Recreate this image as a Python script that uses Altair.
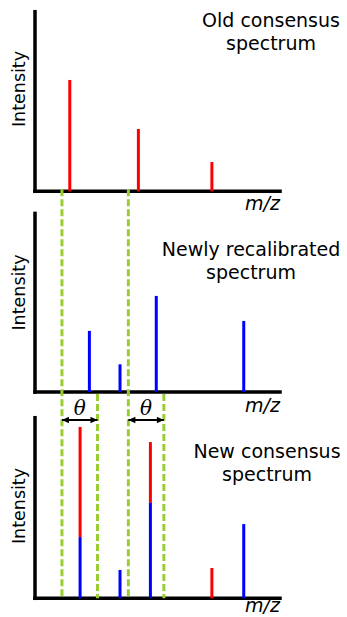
import altair as alt
import pandas as pd

# Peak lists: m/z in axis units (0-100 along each m/z axis), intensity 0-100 up each axis
old_mz = [14.2, 42.2, 72.2]
old_int = [62.0, 34.7, 16.3]

new_mz = [22.2, 34.7, 49.5, 85.2]
new_int = [34.2, 15.5, 53.8, 39.8]

# merged spectrum: blue part = recalibrated contribution, red part stacked on top = old contribution
cons_mz = [18.4, 34.7, 47.1, 72.2, 85.2]
cons_new = [33.9, 15.7, 52.8, 0.0, 41.1]
cons_old = [61.0, 0.0, 33.7, 16.8, 0.0]

# matching windows of width theta
window_start = [11.0, 38.1]
theta = 14.5

panel_titles = ["Old consensus\nspectrum", "Newly recalibrated\nspectrum", "New consensus\nspectrum"]

# ---- layout ----
W, H = 347, 617
X_RANGE = [35, 280]
Y_RANGES = [[191.3, 11.7], [392.0, 213.4], [598.3, 417.7]]
TITLE_POS = [(271, 26.7), (251, 256), (267, 457.7)]
YLABEL_POS = [89, 292.5, 506]
MZ_LABEL_Y = [210, 411.5, 612]
ARROW_Y = 420
THETA_Y = 415

RED, BLUE, GREEN = "#ff0000", "#0000ff", "#9acd32"
SANS = "DejaVu Sans"

xs = alt.Scale(domain=[0, 100], range=X_RANGE)
cs = alt.Scale(domain=["old", "new"], range=[RED, BLUE])


def peak_rows(mz, lo, hi, kind):
    return [{"mz": m, "lo": a, "hi": b, "kind": kind}
            for m, a, b in zip(mz, lo, hi) if b > a]


def panel(i, rows):
    ys = alt.Scale(domain=[0, 100], range=Y_RANGES[i])
    axes_df = pd.DataFrame({"mz": [0, 0], "mz2": [0, 100], "y": [0, 0], "y2": [100, 0]})
    axes = alt.Chart(axes_df).mark_rule(
        color="black", strokeWidth=3.5, strokeCap="square"
    ).encode(
        x=alt.X("mz:Q", scale=xs, axis=None), x2="mz2:Q",
        y=alt.Y("y:Q", scale=ys, axis=None), y2="y2:Q",
    )
    peaks = alt.Chart(pd.DataFrame(rows)).mark_rule(strokeWidth=3, strokeCap="butt").encode(
        x=alt.X("mz:Q", scale=xs, axis=None),
        y=alt.Y("lo:Q", scale=ys, axis=None), y2="hi:Q",
        color=alt.Color("kind:N", scale=cs, legend=None),
    )
    tx, ty = TITLE_POS[i]
    title = alt.Chart(pd.DataFrame({"t": [panel_titles[i]]})).mark_text(
        font=SANS, fontSize=19, align="center", baseline="alphabetic",
        lineBreak="\n", lineHeight=23.3, color="black",
    ).encode(text="t:N", x=alt.value(tx), y=alt.value(ty))
    ylab = alt.Chart(pd.DataFrame({"t": ["Intensity"]})).mark_text(
        font=SANS, fontSize=17.5, angle=270, align="center", baseline="alphabetic", color="black",
    ).encode(text="t:N", x=alt.value(25.3), y=alt.value(YLABEL_POS[i]))
    xlab = alt.Chart(pd.DataFrame({"t": ["m/z"]})).mark_text(
        font=SANS, fontSize=19, fontStyle="italic", align="right", baseline="alphabetic", color="black",
    ).encode(text="t:N", x=alt.value(280), y=alt.value(MZ_LABEL_Y[i]))
    return alt.layer(axes, peaks, title, ylab, xlab)


rows1 = peak_rows(old_mz, [0] * len(old_mz), old_int, "old")
rows2 = peak_rows(new_mz, [0] * len(new_mz), new_int, "new")
rows3 = (peak_rows(cons_mz, [0] * len(cons_mz), cons_new, "new")
         + peak_rows(cons_mz, cons_new, [n + o for n, o in zip(cons_new, cons_old)], "old"))

win = pd.DataFrame({"start": window_start})
win["end"] = win["start"] + theta
win["mid"] = win["start"] + theta / 2

guide_style = dict(color=GREEN, strokeWidth=3, strokeDash=[7, 3])
left_guides = alt.Chart(win).mark_rule(**guide_style).encode(
    x=alt.X("start:Q", scale=xs, axis=None),
    y=alt.value(Y_RANGES[0][0] - 2), y2=alt.value(Y_RANGES[2][0]),
)
right_guides = alt.Chart(win).mark_rule(**guide_style).encode(
    x=alt.X("end:Q", scale=xs, axis=None),
    y=alt.value(Y_RANGES[1][0] + 2), y2=alt.value(Y_RANGES[2][0]),
)

arrow_line = alt.Chart(win).mark_rule(color="black", strokeWidth=2).encode(
    x=alt.X("start:Q", scale=xs, axis=None), x2="end:Q", y=alt.value(ARROW_Y),
)
head_left = alt.Chart(win).mark_point(
    shape="M0,0L2,-0.9L2,0.9Z", size=49, filled=True, color="black", opacity=1, strokeWidth=0,
).encode(x=alt.X("start:Q", scale=xs, axis=None), y=alt.value(ARROW_Y))
head_right = alt.Chart(win).mark_point(
    shape="M0,0L-2,-0.9L-2,0.9Z", size=49, filled=True, color="black", opacity=1, strokeWidth=0,
).encode(x=alt.X("end:Q", scale=xs, axis=None), y=alt.value(ARROW_Y))
theta_text = alt.Chart(win).mark_text(
    font="DejaVu Serif", fontStyle="italic", fontSize=20, align="center",
    baseline="alphabetic", color="black",
).encode(x=alt.X("mid:Q", scale=xs, axis=None), y=alt.value(THETA_Y), text=alt.value("θ"))

chart = alt.layer(
    panel(0, rows1), panel(1, rows2), panel(2, rows3),
    left_guides, right_guides, arrow_line, head_left, head_right, theta_text,
).resolve_scale(
    y="independent"
).properties(
    width=W, height=H, padding=0, background="white",
    autosize=alt.AutoSizeParams(type="none"),
).configure_view(stroke=None)

chart.save("out.html", embed_options={"renderer": "svg", "actions": False})
